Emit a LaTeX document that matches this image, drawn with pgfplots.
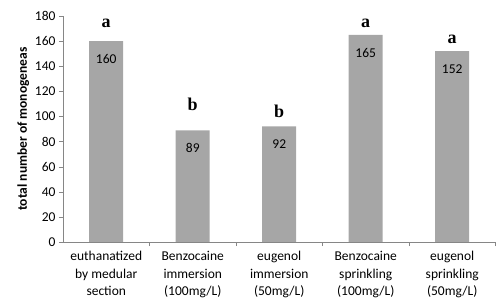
\documentclass[border=0pt]{standalone}
\usepackage{fontspec}
\setmainfont{Carlito}
\newfontfamily\serifbold{Liberation Serif}
\usepackage{pgfplots}
\pgfplotsset{compat=1.18}
\definecolor{bargray}{HTML}{A6A6A6}
\definecolor{axgray}{HTML}{868686}
\begin{document}
\begin{tikzpicture}
\useasboundingbox (-63pt,-63pt) rectangle (435pt,242pt);
\begin{axis}[
  at={(0,0)}, anchor=south west,
  scale only axis,
  width=432.5pt, height=226pt,
  xmin=-0.5, xmax=4.5,
  ymin=0, ymax=180,
  ytick={0,20,...,180},
  axis x line*=bottom,
  axis y line*=left,
  axis line style={axgray},
  tick style={axgray},
  tick align=outside,
  xtick={0,1,2,3,4},
  major x tick style={draw=none},
  minor xtick={0.5,1.5,2.5,3.5,4.5},
  minor tick length=4pt,
  major tick length=4pt,
  xticklabels={{euthanatized\\by medular\\section},{Benzocaine\\immersion\\(100mg/L)},{eugenol\\immersion\\(50mg/L)},{Benzocaine\\sprinkling\\(100mg/L)},{eugenol\\sprinkling\\(50mg/L)}},
  x tick label style={align=center, font=\fontsize{13.5}{17.5}\selectfont, yshift=-2pt},
  y tick label style={font=\fontsize{13.5}{15}\selectfont},
  /pgf/number format/assume math mode=true,
  ylabel={\bfseries total number of monogeneas},
  ylabel style={font=\fontsize{13.5}{15}\selectfont, yshift=-1pt},
  nodes near coords,
  every node near coord/.append style={anchor=center, yshift=-18pt, font=\fontsize{13.5}{15}\selectfont, text=black},
]
\addplot[ybar, bar width=34pt, fill=bargray, draw=none] coordinates {(0,160) (1,89) (2,92) (3,165) (4,152)};
\node[anchor=base, font=\serifbold\bfseries\fontsize{18}{18}\selectfont] at (axis cs:0,171) {a};
\node[anchor=base, font=\serifbold\bfseries\fontsize{18}{18}\selectfont] at (axis cs:1,105) {b};
\node[anchor=base, font=\serifbold\bfseries\fontsize{18}{18}\selectfont] at (axis cs:2,99.5) {b};
\node[anchor=base, font=\serifbold\bfseries\fontsize{18}{18}\selectfont] at (axis cs:3,171) {a};
\node[anchor=base, font=\serifbold\bfseries\fontsize{18}{18}\selectfont] at (axis cs:4,158) {a};
\end{axis}
\end{tikzpicture}
\end{document}
